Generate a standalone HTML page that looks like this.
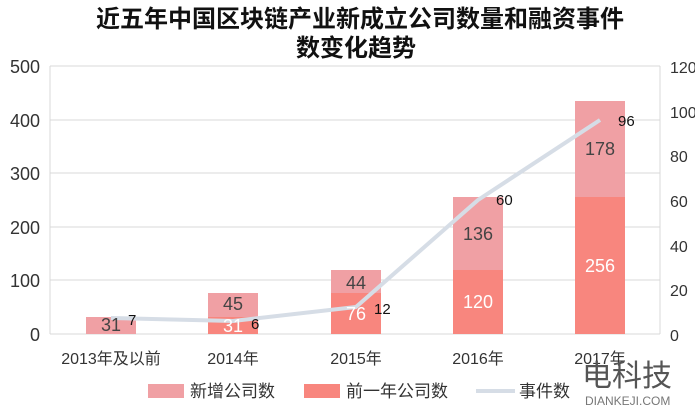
<!DOCTYPE html><html><head><meta charset="utf-8"><style>body{margin:0;background:#fff}svg{display:block}text{font-family:"Liberation Sans","Noto Sans CJK SC",sans-serif}</style></head><body>
<svg width="695" height="408" viewBox="0 0 695 408">
<text x="360" y="27" text-anchor="middle" font-size="24" font-weight="bold" fill="#111">近五年中国区块链产业新成立公司数量和融资事件</text>
<text x="356" y="56" text-anchor="middle" font-size="24" font-weight="bold" fill="#111">数变化趋势</text>
<g stroke="#d9d9d9" stroke-width="1">
<line x1="50" y1="66" x2="660" y2="66"/><line x1="50" y1="120" x2="660" y2="120"/><line x1="50" y1="173" x2="660" y2="173"/><line x1="50" y1="227" x2="660" y2="227"/><line x1="50" y1="280" x2="660" y2="280"/><line x1="50" y1="334" x2="660" y2="334"/>
<line x1="50" y1="66" x2="50" y2="334"/><line x1="660" y1="66" x2="660" y2="334"/></g>
<g font-size="18" fill="#333" text-anchor="end"><text x="40" y="73">500</text><text x="40" y="127">400</text><text x="40" y="180">300</text><text x="40" y="234">200</text><text x="40" y="287">100</text><text x="40" y="341">0</text></g>
<g font-size="16" fill="#333"><text x="670" y="73">120</text><text x="670" y="118">100</text><text x="670" y="162">80</text><text x="670" y="207">60</text><text x="670" y="252">40</text><text x="670" y="296">20</text><text x="670" y="341">0</text></g>
<rect x="86" y="317" width="50" height="17" fill="#f0a0a4"/>
<rect x="208" y="293" width="50" height="24" fill="#f0a0a4"/><rect x="208" y="317" width="50" height="17" fill="#f8867e"/>
<rect x="331" y="270" width="50" height="23" fill="#f0a0a4"/><rect x="331" y="293" width="50" height="41" fill="#f8867e"/>
<rect x="453" y="197" width="50" height="73" fill="#f0a0a4"/><rect x="453" y="270" width="50" height="64" fill="#f8867e"/>
<rect x="575" y="101" width="50" height="96" fill="#f0a0a4"/><rect x="575" y="197" width="50" height="137" fill="#f8867e"/>
<polyline points="111,318 233,321 356,307 478,200 600,120" fill="none" stroke="#d6dde6" stroke-width="4" stroke-linejoin="round"/>
<g font-size="18" fill="#444" text-anchor="middle"><text x="111" y="331">31</text><text x="233" y="310">45</text><text x="356" y="289">44</text><text x="478" y="240">136</text><text x="600" y="155">178</text></g>
<g font-size="18" fill="#fff" text-anchor="middle"><text x="233" y="332">31</text><text x="356" y="320">76</text><text x="478" y="308">120</text><text x="600" y="272">256</text></g>
<g font-size="15" fill="#111"><text x="128" y="325">7</text><text x="251" y="329">6</text><text x="374" y="314">12</text><text x="496" y="205">60</text><text x="618" y="126">96</text></g>
<g font-size="16" fill="#333" text-anchor="middle"><text x="111" y="364">2013年及以前</text><text x="233" y="364">2014年</text><text x="356" y="364">2015年</text><text x="478" y="364">2016年</text><text x="600" y="364">2017年</text></g>
<rect x="148" y="384" width="36" height="14" fill="#f0a0a4"/><text x="190" y="397" font-size="17" fill="#333">新增公司数</text>
<rect x="304" y="384" width="36" height="14" fill="#f8867e"/><text x="346" y="397" font-size="17" fill="#333">前一年公司数</text>
<line x1="476" y1="391" x2="515" y2="391" stroke="#d6dde6" stroke-width="4"/><text x="519" y="397" font-size="17" fill="#333">事件数</text>
<text x="582" y="386" font-size="30" fill="#555">电科技</text>
<text x="585" y="405" font-size="12" fill="#777">DIANKEJI.COM</text>
</svg></body></html>
